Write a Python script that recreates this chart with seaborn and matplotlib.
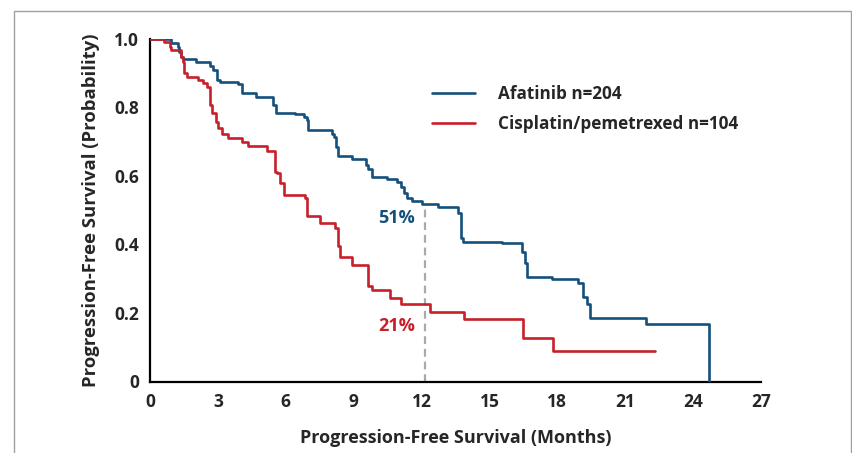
import numpy as np
import pandas as pd
import matplotlib
matplotlib.use("Agg")
import matplotlib.pyplot as plt
from matplotlib.patches import Rectangle
import seaborn as sns

# ---- data ----
afatinib_t = [0, 0.92, 1.24, 1.30, 1.38, 1.46, 2.05, 2.64, 2.78, 2.94, 3.10, 3.90, 4.05,
              4.69, 5.43, 5.58, 6.39, 6.80, 6.92, 7.00, 8.03, 8.14, 8.22, 8.32, 8.91,
              9.54, 9.64, 9.79, 10.46, 10.93, 11.09, 11.22, 11.34, 11.56, 12.00, 12.74,
              13.62, 13.73, 13.85, 15.54, 16.42, 16.57, 16.65, 17.75, 18.93, 19.15,
              19.30, 19.44, 21.90, 24.72]
afatinib_s = [1.0, 0.988, 0.976, 0.962, 0.947, 0.939, 0.932, 0.921, 0.908, 0.879, 0.872,
              0.866, 0.840, 0.830, 0.806, 0.782, 0.779, 0.771, 0.763, 0.733, 0.722, 0.712,
              0.684, 0.657, 0.648, 0.631, 0.619, 0.595, 0.589, 0.583, 0.566, 0.549, 0.534,
              0.526, 0.518, 0.509, 0.490, 0.417, 0.408, 0.403, 0.378, 0.345, 0.306,
              0.298, 0.286, 0.247, 0.226, 0.184, 0.167, 0.0]

cispem_t = [0, 0.64, 0.87, 0.92, 1.37, 1.48, 1.52, 1.63, 2.10, 2.34, 2.53, 2.65, 2.72,
            2.92, 3.02, 3.17, 3.46, 4.05, 4.34, 5.16, 5.52, 5.60, 5.75, 5.92, 6.85, 6.95,
            7.52, 8.17, 8.32, 8.40, 8.91, 9.65, 9.79, 10.60, 11.08, 12.37, 13.88, 16.47,
            17.82, 22.30]
cispem_s = [1.0, 0.989, 0.976, 0.966, 0.947, 0.932, 0.899, 0.889, 0.879, 0.869, 0.858,
            0.806, 0.782, 0.756, 0.738, 0.721, 0.709, 0.699, 0.687, 0.673, 0.612, 0.607,
            0.580, 0.544, 0.534, 0.482, 0.463, 0.447, 0.395, 0.362, 0.340, 0.279, 0.267,
            0.243, 0.225, 0.204, 0.181, 0.128, 0.090, 0.090]

series_names = ["Afatinib n=204", "Cisplatin/pemetrexed n=104"]
x_ticks = [0, 3, 6, 9, 12, 15, 18, 21, 24, 27]
y_ticks = [0, 0.2, 0.4, 0.6, 0.8, 1.0]
y_tick_labels = ["0", "0.2", "0.4", "0.6", "0.8", "1.0"]
landmark_month = 12.15
landmark_afatinib = 0.517
landmark_labels = ["51%", "21%"]

BLUE = "#13507c"
RED = "#c81f2b"

df = pd.concat([
    pd.DataFrame({"month": afatinib_t, "pfs": afatinib_s, "arm": series_names[0]}),
    pd.DataFrame({"month": cispem_t, "pfs": cispem_s, "arm": series_names[1]}),
], ignore_index=True)

sns.set_style("white")
plt.rcParams["font.family"] = ["Open Sans", "DejaVu Sans"]
plt.rcParams["font.weight"] = "bold"

fig = plt.figure(figsize=(8.52, 4.53), dpi=100)
ax = fig.add_axes([150 / 852, (453 - 381.5) / 453, (761 - 150) / 852, (381.5 - 38.5) / 453])

# landmark dashed line
ax.plot([landmark_month, landmark_month], [0, landmark_afatinib], color="#aaaaaa",
        lw=1.6, ls=(0, (3.5, 2.2)), zorder=1)

sns.lineplot(data=df, x="month", y="pfs", hue="arm", palette=[BLUE, RED],
             estimator=None, sort=False, drawstyle="steps-post", lw=1.9, ax=ax,
             zorder=3)

ax.text(10.9, 0.478, landmark_labels[0], color=BLUE, fontsize=13, fontweight="bold",
        ha="center", va="center")
ax.text(10.9, 0.163, landmark_labels[1], color=RED, fontsize=13, fontweight="bold",
        ha="center", va="center")

ax.set_xlim(0, 27)
ax.set_ylim(0, 1.0)
ax.set_xticks(x_ticks)
ax.set_xticklabels([str(v) for v in x_ticks])
ax.set_yticks(y_ticks)
ax.set_yticklabels(y_tick_labels)
ax.tick_params(direction="out", length=5, width=1.6, labelsize=12.5, pad=3, color="black")
for lab in ax.get_xticklabels() + ax.get_yticklabels():
    lab.set_fontweight("bold")
for s in ["top", "right"]:
    ax.spines[s].set_visible(False)
for s in ["left", "bottom"]:
    ax.spines[s].set_linewidth(1.6)
    ax.spines[s].set_color("black")
ax.spines["left"].set_bounds(0, 1.0)
ax.spines["bottom"].set_bounds(0, 27)

ax.set_xlabel("Progression-Free Survival (Months)", fontsize=13, fontweight="bold",
              labelpad=13)
ax.set_ylabel("Progression-Free Survival (Probability)", fontsize=13.3,
              fontweight="bold", labelpad=10)

leg = ax.legend(loc="upper left", bbox_to_anchor=(275 / 611, 1 - 40 / 343),
                frameon=False, fontsize=12.3, handlelength=2.5, handletextpad=1.4,
                labelspacing=0.7, borderaxespad=0)
for t in leg.get_texts():
    t.set_fontweight("bold")
for h in leg.legend_handles:
    h.set_linewidth(1.9)

# outer gray frame (bottom edge lies outside the image)
fig.add_artist(Rectangle((13.5 / 852, -0.1), (850.5 - 13.5) / 852, (453 - 11) / 453 + 0.1,
                         transform=fig.transFigure, fill=False, edgecolor="#a0a0a0",
                         lw=1.0, clip_on=False))

fig.savefig("out.png", dpi=100)
